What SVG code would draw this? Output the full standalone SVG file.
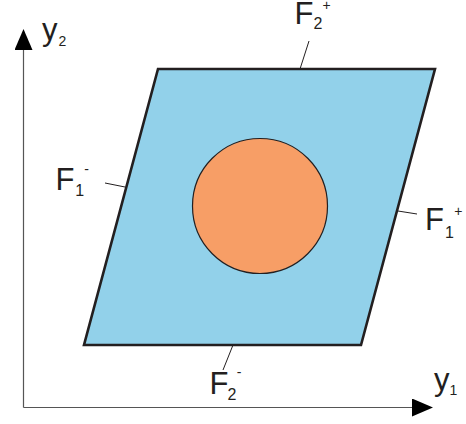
<svg xmlns="http://www.w3.org/2000/svg" width="466" height="424" viewBox="0 0 466 424">
  <style>
    .axis { stroke: #555; stroke-width: 1.2; fill: none; }
    .leader { stroke: #231f20; stroke-width: 1; fill: none; }
    .big { font-family: "Liberation Sans", Arial, sans-serif; font-size: 31px; fill: #231f20; }
    .sub { font-family: "Liberation Sans", Arial, sans-serif; font-size: 16px; fill: #231f20; }
    .sup { font-family: "Liberation Sans", Arial, sans-serif; font-size: 14px; fill: #231f20; text-anchor: middle; }
    .ax { font-family: "Liberation Sans", Arial, sans-serif; font-size: 31px; fill: #231f20; }
    .axsub { font-family: "Liberation Sans", Arial, sans-serif; font-size: 14px; fill: #231f20; }
  </style>
  <defs>
    <marker id="arrow" viewBox="0 0 21 18" refX="0" refY="9" markerWidth="21" markerHeight="18" markerUnits="userSpaceOnUse" orient="auto">
      <path d="M0,0 L21,9 L0,18 z" fill="#000"/>
    </marker>
  </defs>
  <rect width="466" height="424" fill="#fff"/>

  <g id="axes">
    <line class="axis" x1="23.5" y1="407.5" x2="23.5" y2="50" marker-end="url(#arrow)"/>
    <line class="axis" x1="23.5" y1="407.5" x2="412" y2="407.5" marker-end="url(#arrow)"/>
    <text class="ax" x="42" y="40">y</text>
    <text class="axsub" x="58.5" y="46">2</text>
    <text class="ax" x="434" y="390">y</text>
    <text class="axsub" x="449.5" y="395">1</text>
  </g>

  <g id="domain">
    <polygon points="158,69 435,69 361,345 84,345" fill="#92d1ea" stroke="#231f20" stroke-width="2.6" stroke-linejoin="miter"/>
  </g>

  <g id="inclusion">
    <circle cx="260" cy="206" r="67.5" fill="#f79e66" stroke="#231f20" stroke-width="1.2"/>
  </g>

  <g id="connectors">
    <line class="leader" x1="309" y1="41" x2="300" y2="69"/>
    <line class="leader" x1="105" y1="183" x2="125" y2="187"/>
    <line class="leader" x1="398" y1="211" x2="417" y2="214"/>
    <line class="leader" x1="233" y1="345" x2="223" y2="370"/>
  </g>

  <g id="label-F2plus">
    <text class="big" x="294.5" y="23.5">F</text>
    <text class="sub" x="313.5" y="29">2</text>
    <text class="sup" x="326.5" y="10">+</text>
  </g>
  <g id="label-F1minus">
    <text class="big" x="55.5" y="190">F</text>
    <text class="sub" x="75.3" y="196">1</text>
    <text class="sup" x="86.5" y="174">-</text>
  </g>
  <g id="label-F1plus">
    <text class="big" x="425" y="230">F</text>
    <text class="sub" x="445" y="238">1</text>
    <text class="sup" x="458.3" y="216.3">+</text>
  </g>
  <g id="label-F2minus">
    <text class="big" x="209.5" y="394">F</text>
    <text class="sub" x="227.5" y="400">2</text>
    <text class="sup" x="239" y="377">-</text>
  </g>
</svg>
